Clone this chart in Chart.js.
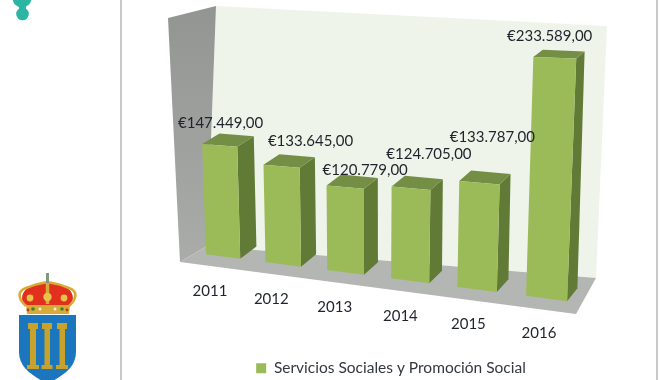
<!DOCTYPE html>
<html lang="es"><head><meta charset="utf-8">
<script src="https://cdn.jsdelivr.net/npm/chart.js@4"></script>
<style>
html,body{margin:0;padding:0;background:#fff;width:670px;height:380px;overflow:hidden}
#c{position:absolute;left:112px;top:0;filter:blur(.4px)}
#deco{position:absolute;left:0;top:0;filter:blur(.5px)}
.rule{position:absolute;top:0;width:2px;height:380px;background:#c9c9c9}
</style></head><body>
<svg id="deco" width="112" height="380" viewBox="0 0 112 380">
  <circle cx="22" cy="-2" r="9.5" fill="#2cb5a2"/><circle cx="22.5" cy="14" r="6.3" fill="#2cb5a2"/><rect x="19" y="5" width="7" height="5" fill="#2cb5a2"/>
  <path d="M19 315H76V352C76 368 62 376 47.5 384C33 376 19 368 19 352Z" fill="#1c76bd"/>
  <g fill="#c8a32c">
    <rect x="28" y="323" width="10" height="6"/><rect x="30" y="329" width="6" height="36"/><rect x="27" y="365" width="12" height="4"/>
    <rect x="42" y="323" width="10" height="6"/><rect x="44.5" y="329" width="5.5" height="36"/><rect x="41.5" y="365" width="11" height="4"/>
    <rect x="57" y="323" width="10" height="6"/><rect x="59.5" y="329" width="5.5" height="36"/><rect x="56" y="365" width="12" height="4"/>
  </g>
  <path d="M24 305C19 296 24 288 34 285C40 283 44 282 47.5 282C51 282 55 283 61 285C71 288 76 296 71 305Z" fill="#e2301f"/>
  <g fill="none" stroke="#d9ab34">
    <path d="M26 306C18 299 17 291 26 288C33 285 41 283 47.5 282C54 283 62 285 69 288C78 291 77 299 69 306" stroke-width="2.6"/>
    <path d="M47.5 282V304" stroke-width="3.5"/>
  </g>
  <path d="M26 305H70L69 314H27Z" fill="#d9ab34"/>
  <rect x="46" y="273" width="3" height="10" fill="#7f9a7a"/>
  <circle cx="30" cy="298" r="3.4" fill="#e8c24a"/><circle cx="47.5" cy="297" r="4.2" fill="#e8c24a"/><circle cx="64" cy="298" r="3.4" fill="#e8c24a"/>
  <circle cx="33" cy="309" r="1.8" fill="#2f8a3a"/><circle cx="62" cy="309" r="1.8" fill="#2f8a3a"/><circle cx="40" cy="309" r="1.5" fill="#eee"/><circle cx="55" cy="309" r="1.5" fill="#eee"/><circle cx="28" cy="310" r="1.4" fill="#c3342a"/><circle cx="67" cy="310" r="1.4" fill="#c3342a"/>
</svg>
<div class="rule" style="left:120px"></div>
<div class="rule" style="left:656px"></div>
<canvas id="c" width="558" height="386"></canvas>
<script>
const years = ['2011','2012','2013','2014','2015','2016'];
const seriesName = 'Servicios Sociales y Promoción Social';
const amounts = [147449, 133645, 120779, 124705, 133787, 233589];
const axisMin = 50000;

const labelNudge = [[1,-22],[29,-25],[20,-17],[18,-34],[13,-46],[-5,-22]];
const offsetX = 112;
const font = 'Lato, Carlito, sans-serif';
const frontQuad = {bl:[193.7,252.7], br:[582.2,303.1], tl:[186,46], tr:[592,59]};
const depth = {bl:[17,-12], br:[10,-13], tl:[18,-9], tr:[8,-7]};
const frame = {
  wallLeft:[[168,18],[216,6],[207,246],[180,262]],
  wallBack:[[216,6],[607,26],[596,278],[207,246]],
  floor:[[180,262],[207,246],[596,278],[576,314]]
};
const euro = v => '€' + String(v).replace(/\B(?=(\d{3})+$)/g,'.') + ',00';
const lerp = (a,b,k) => [a[0]+(b[0]-a[0])*k, a[1]+(b[1]-a[1])*k];
const xBase = t => (55.32*t+223)/(1-0.01716*t);
const sOf = t => (xBase(t)-xBase(-.5))/(xBase(5.5)-xBase(-.5));

function project(chart, px, py, w){
  const a = chart.chartArea;
  const t = (px-a.left)/(a.right-a.left)*years.length-.5;
  const s = sOf(t), v = (a.bottom-py)/(a.bottom-a.top);
  const p = lerp(lerp(frontQuad.bl,frontQuad.br,s),lerp(frontQuad.tl,frontQuad.tr,s),v);
  const d = lerp(lerp(depth.bl,depth.br,s),lerp(depth.tl,depth.tr,s),v);
  return [p[0]+d[0]*w-offsetX, p[1]+d[1]*w];
}
function poly(ctx, pts, fill){
  ctx.beginPath();
  pts.forEach((p,i)=> i?ctx.lineTo(p[0],p[1]):ctx.moveTo(p[0],p[1]));
  ctx.closePath(); ctx.fillStyle=fill; ctx.fill();
}
const shift = pts => pts.map(p=>[p[0]-offsetX,p[1]]);

const bars3d = {
  id:'bars3d',
  beforeDatasetsDraw(chart){
    const c = chart.ctx;
    poly(c, shift(frame.wallBack), '#eef4ea');
    const g = c.createLinearGradient(0,10,0,262);
    g.addColorStop(0,'#929592'); g.addColorStop(1,'#aaaca9');
    poly(c, shift(frame.wallLeft), g);
    poly(c, shift(frame.floor), '#b3b6b2');
  },
  beforeDatasetDraw(chart, args){
    const c = chart.ctx;
    chart.getDatasetMeta(args.index).data.forEach(el=>{
      const {x,y,base,width} = el.getProps(['x','y','base','width']);
      const l=x-width/2, r=x+width/2;
      const fbl=project(chart,l,base,0), fbr=project(chart,r,base,0), ftl=project(chart,l,y,0), ftr=project(chart,r,y,0);
      const bbr=project(chart,r,base,1), btl=project(chart,l,y,1), btr=project(chart,r,y,1);
      poly(c,[fbr,ftr,btr,bbr],'#617a36');
      poly(c,[ftl,ftr,btr,btl],'#748f45');
      poly(c,[fbl,fbr,ftr,ftl],'#9bbb59');
    });
    return false;
  },
  afterDatasetsDraw(chart){
    const c = chart.ctx, xs = chart.scales.x, meta = chart.getDatasetMeta(0);
    c.save();
    c.font='15px '+font; c.textAlign='center'; c.textBaseline='middle'; c.fillStyle='#1f232b';
    meta.data.forEach((el,i)=>{
      const {x,y,base} = el.getProps(['x','y','base']);
      const top = project(chart,x,y,0);
      c.fillText(euro(amounts[i]), top[0]+labelNudge[i][0], top[1]+labelNudge[i][1]);
      const b = project(chart,x,base,0);
      c.fillText(xs.getLabelForValue(i), b[0]-13+1.1*i, b[1]+35);
    });
    c.restore();
  }
};

new Chart(document.getElementById('c'),{
  type:'bar',
  data:{labels:years,datasets:[{label:seriesName,data:amounts,base:axisMin,backgroundColor:'#9bbb59',borderWidth:0,categoryPercentage:1,barPercentage:.58}]},
  plugins:[bars3d],
  options:{
    responsive:false,animation:false,
    scales:{
      x:{display:false},
      y:{display:false,min:axisMin,max:Math.max(...amounts)}
    },
    plugins:{
      tooltip:{enabled:false},
      legend:{position:'bottom',labels:{boxWidth:10,boxHeight:10,padding:5,color:'#33373f',font:{family:font,size:15.5}}}
    }
  }
});
</script></body></html>
